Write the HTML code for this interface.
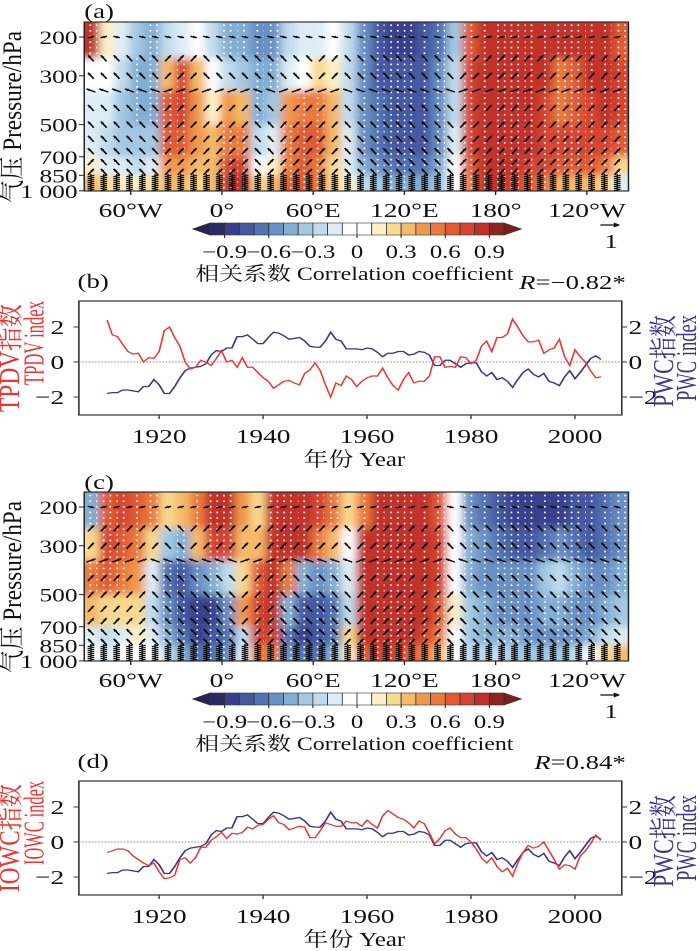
<!DOCTYPE html>
<html><head><meta charset="utf-8"><style>
html,body{margin:0;padding:0;background:#fff;}
svg{display:block;}
text{font-family:"Liberation Serif","Noto Serif CJK SC","Noto Sans CJK SC",serif;fill:#111;}
</style></head><body>
<svg id="fig" xmlns="http://www.w3.org/2000/svg" width="700" height="951" viewBox="0 0 523.5 951" preserveAspectRatio="none">
<defs>
<pattern id="dots" patternUnits="userSpaceOnUse" width="5" height="5.6"><ellipse cx="2.5" cy="2.8" rx="0.75" ry="0.95" fill="#fff"/></pattern>
<clipPath id="clipA"><rect x="63" y="22" width="407" height="169"/></clipPath>
<clipPath id="clipC"><rect x="63" y="492" width="407" height="169"/></clipPath>
<filter id="blur" x="-5%" y="-5%" width="110%" height="110%"><feGaussianBlur stdDeviation="3.2 4"/></filter>
</defs>
</svg>
<script>
// ---- data ----
const levels=[170,250,350,500,700,850,1000];
const palette=['#2c2a66','#383f8a','#4458a0','#5272b1','#6a8fc2','#83aed3','#a3c8e2','#c0dcec','#deedf5','#ffffff','#ffffff','#fcf0c8','#f8d98f','#f4b96b','#f0994c','#ea7a3d','#e05b34','#d44430','#c0302a','#8c2520'];
const gridA=[[0.8,-0.1,-0.2,-0.2,0.1,0.3],[0.1,-0.1,-0.2,-0.3,-0.2,0.2],[-0.2,-0.3,-0.4,-0.4,-0.2,0.1],[-0.4,-0.5,-0.5,-0.4,-0.3,0.1],[-0.5,-0.5,-0.5,-0.4,-0.2,0.2],[-0.3,0.3,0.6,0.6,0.4,0.3],[-0.2,0.7,0.7,0.6,0.4,0.3],[-0.1,0.3,0.4,0.4,0.3,0.2],[-0.3,-0.1,0.1,0.3,0.3,0.3],[-0.5,-0.3,0.4,0.5,0.75,0.8],[-0.5,-0.4,0.3,0.5,0.7,0.8],[-0.6,-0.5,-0.5,-0.3,-0.1,0.2],[-0.6,-0.5,-0.4,-0.2,0.1,0.3],[-0.3,-0.2,0.4,0.5,0.5,0.6],[-0.2,-0.1,0.5,0.6,0.6,0.6],[-0.2,0.2,0.5,0.6,0.5,0.5],[-0.1,0.1,0.3,0.3,0.2,0.2],[-0.3,-0.3,-0.3,-0.2,-0.2,0.1],[-0.6,-0.6,-0.6,-0.6,-0.5,-0.3],[-0.8,-0.75,-0.7,-0.7,-0.6,-0.4],[-0.85,-0.8,-0.8,-0.75,-0.7,-0.5],[-0.85,-0.8,-0.8,-0.8,-0.7,-0.5],[-0.8,-0.75,-0.75,-0.75,-0.65,-0.5],[-0.7,-0.6,-0.6,-0.6,-0.5,-0.4],[-0.4,-0.3,-0.3,-0.2,-0.1,0.0],[0.6,0.7,0.7,0.7,0.6,0.5],[0.85,0.85,0.85,0.85,0.8,0.8],[0.85,0.85,0.85,0.85,0.85,0.8],[0.85,0.85,0.85,0.85,0.8,0.7],[0.85,0.85,0.8,0.8,0.7,0.6],[0.8,0.8,0.75,0.75,0.7,0.5],[0.8,0.5,0.5,0.7,0.6,0.3],[0.8,0.6,0.6,0.7,0.6,0.3],[0.8,0.8,0.75,0.75,0.6,0.3],[0.8,0.8,0.8,0.75,0.5,0.2],[0.6,0.7,0.7,0.6,0.2,-0.2]];
const gridC=[[-0.5,0.2,0.5,0.3,-0.2,-0.1],[0.6,0.7,0.6,0.2,-0.3,-0.2],[0.7,0.6,0.5,0.2,-0.2,-0.1],[0.6,0.5,0.4,0.2,0.1,0.0],[0.5,0.2,-0.2,-0.3,-0.2,0.0],[0.2,-0.4,-0.7,-0.6,-0.5,-0.3],[0.3,-0.5,-0.8,-0.8,-0.7,-0.5],[0.5,0.3,-0.6,-0.85,-0.85,-0.7],[0.8,0.7,-0.5,-0.85,-0.8,-0.7],[0.8,0.7,-0.3,-0.6,-0.7,-0.6],[0.4,0.3,0.2,0.4,-0.3,-0.2],[0.2,0.3,0.6,0.7,0.7,0.5],[0.85,0.85,0.85,0.8,0.7,0.5],[0.85,0.85,0.5,-0.5,-0.7,-0.6],[0.85,0.8,-0.5,-0.8,-0.85,-0.7],[0.7,0.5,-0.6,-0.8,-0.8,-0.7],[0.5,0.3,-0.5,-0.7,-0.7,-0.5],[0.2,0.0,-0.2,-0.3,0.2,0.1],[0.5,0.8,0.85,0.85,0.8,0.6],[0.85,0.85,0.85,0.85,0.85,0.7],[0.85,0.85,0.85,0.85,0.8,0.7],[0.85,0.85,0.85,0.85,0.8,0.6],[0.85,0.85,0.85,0.8,0.7,0.5],[0.6,0.7,0.7,0.6,0.5,0.3],[-0.1,0.0,0.0,0.1,0.0,0.0],[-0.6,-0.5,-0.5,-0.4,-0.4,-0.3],[-0.7,-0.6,-0.6,-0.5,-0.5,-0.3],[-0.8,-0.7,-0.6,-0.6,-0.5,-0.3],[-0.85,-0.75,-0.6,-0.6,-0.5,-0.4],[-0.85,-0.8,-0.6,-0.6,-0.6,-0.4],[-0.85,-0.7,-0.4,-0.5,-0.6,-0.4],[-0.85,-0.6,-0.3,-0.5,-0.6,-0.4],[-0.8,-0.7,-0.5,-0.6,-0.6,-0.3],[-0.8,-0.75,-0.6,-0.6,-0.5,-0.1],[-0.7,-0.7,-0.6,-0.5,-0.3,0.2],[-0.6,-0.6,-0.5,-0.4,-0.2,0.3]];
const lonTicks=[-60,0,60,120,180,240];
const lonLabels=['60°W','0°','60°E','120°E','180°','120°W'];
const pTicks=[200,300,500,700,850,1000];
const pLabels=['200','300','500','700','850','1 000'];
const cbTicks=[-0.9,-0.6,-0.3,0,0.3,0.6,0.9];
const cbLabels=['−0.9','−0.6','−0.3','0','0.3','0.6','0.9'];
const years=[];for(let y=1910;y<=2005;y++)years.push(y);
const pwc=[-1.8,-1.75,-1.75,-1.6,-1.6,-1.65,-1.7,-1.4,-1.4,-1.0,-1.3,-1.8,-1.8,-1.4,-0.9,-0.5,-0.35,-0.3,-0.25,-0.1,0.4,0.65,0.6,0.8,0.8,1.45,1.45,1.55,1.3,1.05,1.05,1.4,1.7,1.65,1.5,1.3,1.35,1.4,1.2,0.9,0.85,0.85,1.2,1.7,1.3,1.2,0.75,0.75,0.75,0.7,0.8,0.75,0.55,0.3,0.5,0.5,0.6,0.6,0.4,0.45,0.6,0.55,0.4,-0.2,-0.2,0.1,0.1,-0.1,-0.3,-0.1,-0.05,-0.05,-0.55,-0.8,-0.6,-1.0,-0.9,-1.1,-1.45,-1.0,-0.6,-0.4,-0.7,-0.85,-0.65,-1.1,-1.2,-1.35,-0.85,-0.5,-0.95,-0.6,-0.2,0.2,0.35,0.15];
const tpdv=[2.4,1.55,1.45,1.0,0.6,0.45,0.5,0.0,0.25,0.2,0.6,1.8,2.0,1.4,0.9,0.0,-0.4,-0.3,0.1,0.0,-0.2,0.2,0.65,0.0,0.1,-0.3,0.25,-0.3,-0.3,-0.6,-0.9,-1.1,-1.5,-1.3,-1.1,-1.05,-1.2,-1.3,-0.65,-0.45,-0.05,-0.5,-1.3,-2.0,-1.2,-1.35,-0.8,-1.0,-1.4,-1.1,-0.9,-0.8,-0.8,-0.35,-0.9,-1.35,-1.6,-1.0,-0.6,-1.2,-1.1,-1.1,-0.8,0.3,0.3,-0.3,-0.25,-0.3,0.3,0.25,-0.1,0.1,0.9,1.2,0.6,1.4,1.4,1.6,2.45,2.0,1.5,1.15,1.15,1.25,0.5,0.7,0.8,1.3,0.3,-0.2,0.7,0.3,0.0,-0.5,-0.9,-0.85];
const iowc=[-0.6,-0.5,-0.4,-0.4,-0.5,-0.8,-1.0,-1.2,-1.35,-1.2,-1.7,-2.1,-2.05,-1.9,-1.0,-0.9,-1.2,-0.9,-0.3,-0.3,0.1,0.3,0.55,0.2,0.5,0.45,0.55,0.85,0.75,0.95,1.0,1.3,1.5,1.1,1.0,0.7,0.8,0.9,0.85,0.25,0.25,0.65,1.1,1.0,0.9,0.9,1.2,1.1,1.1,0.9,1.25,1.0,0.8,1.5,1.8,1.6,1.4,1.3,1.1,0.8,1.2,1.05,0.5,-0.1,0.2,0.65,0.8,0.45,0.25,0.25,0.0,-0.4,-0.9,-1.2,-0.9,-1.4,-1.7,-1.5,-1.95,-1.2,-0.6,-0.2,-0.35,-0.25,0.0,-0.5,-1.0,-1.55,-1.3,-1.35,-1.55,-0.8,-0.5,-0.1,0.4,0.1];
const yrTicks=[1920,1940,1960,1980,2000];
const valTicks=[2,0,-2];
const valLabels=['2','0','−2'];

// ---- helpers ----
const NS='http://www.w3.org/2000/svg';
const svg=document.getElementById('fig');
function mk(tag,attrs,parent){const e=document.createElementNS(NS,tag);for(const k in attrs)e.setAttribute(k,attrs[k]);(parent||svg).appendChild(e);return e;}
function txt(s,x,y,size,anchor,parent,extra){const t=mk('text',Object.assign({x:x,y:y,'font-size':size,'text-anchor':anchor||'start'},extra||{}),parent);t.textContent=s;return t;}
function col(v){let b=Math.floor((v+1)/0.1+1e-9);b=Math.max(0,Math.min(19,b));return palette[b];}
const X0=63,X1=470,NC=36,CW=(X1-X0)/NC;
function lonX(l){return 166+l*1.137;}
function pY(p,top){return top+15+Math.log(p/200)*95.6;}

function heatPanel(grid,top,clipId,tag){
  const bottom=top+169;
  const g=mk('g',{'clip-path':'url(#'+clipId+')'});
  
  
  const gb=mk('g',{filter:'url(#blur)'},g);
  for(let i=0;i<grid.length;i++){
    for(let r=0;r<6;r++){
      let x0=X0+i*CW,w=CW+0.4;
      if(i===0){x0-=10;w+=10;} if(i===grid.length-1){w+=10;}
      let y0=pY(levels[r],top),y1=pY(levels[r+1],top);
      if(r===0)y0-=10; if(r===5)y1+=10;
      const c=mk('rect',{x:x0,y:y0,width:w,height:y1-y0,fill:col(grid[i][r])},gb);
      
      
    }
  }
  const gs=mk('g',{},g);
  for(let i=0;i<grid.length;i++){
    for(let r=0;r<6;r++){
      if(Math.abs(grid[i][r])>=0.5){
        const y0=pY(levels[r],top)-(r===0?5:0),y1=pY(levels[r+1],top);
        const s=mk('rect',{x:X0+i*CW+1.5,y:y0,width:CW-3,height:y1-y0,fill:'url(#dots)'},gs);
        
        
      }
    }
  }
  const ga=mk('g',{},g);
  const aps=[200,250,300,350,420,500,580,660,740,820];
  for(let xi=X0+5;xi<X1;xi+=9.6){
    const ci=Math.min(NC-1,Math.floor((xi-X0)/CW));
    for(let k=0;k<aps.length;k++){
      const r=levels.findIndex((l,j)=>aps[k]>=l&&aps[k]<levels[j+1]);
      const v=grid[ci][Math.max(0,r)];
      const y=pY(aps[k],top);
      let ang=(v>0?-55:-125);
      if(k===0)ang=(v>0?-15:15);
      if(k===3)ang=(v>0?-25:-155);
      const len=k===0?5:7.5;
      const rad=ang*Math.PI/180;
      const dx=Math.cos(rad)*len/2,dy=Math.sin(rad)*len/2;
      const a=mk('g',{},ga);
      
      
      mk('line',{x1:xi-dx,y1:y-dy,x2:xi+dx,y2:y+dy,stroke:'#111','stroke-width':1.4},a);
      const hx=xi+dx,hy=y+dy,hr=3;
      const p1=[hx-Math.cos(rad-0.45)*hr,hy-Math.sin(rad-0.45)*hr],p2=[hx-Math.cos(rad+0.45)*hr,hy-Math.sin(rad+0.45)*hr];
      mk('polygon',{points:hx+','+hy+' '+p1.join(',')+' '+p2.join(','),fill:'#111'},a);
    }
    const tf=mk('g',{},ga);
    
    
    for(let yy=bottom-15;yy<=bottom-1;yy+=2){
      mk('line',{x1:xi-2.5,y1:yy+0.8,x2:xi+2.5,y2:yy-0.8,stroke:'#111','stroke-width':1.1},tf);
    }
    mk('line',{x1:xi,y1:bottom-17,x2:xi,y2:bottom,stroke:'#111','stroke-width':1},tf);
  }
  const fr=mk('rect',{x:X0,y:top,width:X1-X0,height:169,fill:'none',stroke:'#222','stroke-width':1.1});
  
  
  const pa=mk('g',{});
  
  
  pTicks.forEach((p,i)=>{const y=pY(p,top);mk('line',{x1:X0-4,y1:y,x2:X0,y2:y,stroke:'#222','stroke-width':1},pa);
    const t=txt(pLabels[i],58,y+7,19,'end',pa);
    
    });
  const yt=txt('气压 Pressure/hPa',0,0,19.5,'middle',null,{transform:'translate(9,'+(top+95)+') rotate(-90)','dominant-baseline':'central',textLength:172,lengthAdjust:'spacingAndGlyphs'});
  
  
  const la=mk('g',{});
  
  
  lonTicks.forEach((l,i)=>{const x=lonX(l);mk('line',{x1:x,y1:bottom,x2:x,y2:bottom+4,stroke:'#222','stroke-width':1},la);
    const t=txt(lonLabels[i],x,bottom+26,20.5,'middle',la);
    
    });
  const cb=mk('g',{});
  
  
  const cy=top+201,ch=12,bx=157,bw=11;
  mk('polygon',{points:(bx-13)+','+(cy+ch/2)+' '+bx+','+cy+' '+bx+','+(cy+ch),fill:'#2a2350',stroke:'#333','stroke-width':0.6},cb);
  for(let i=0;i<20;i++){const r=mk('rect',{x:bx+i*bw,y:cy,width:bw,height:ch,fill:palette[i],stroke:'#333','stroke-width':0.6},cb);
    
    }
  mk('polygon',{points:(bx+220)+','+cy+' '+(bx+233)+','+(cy+ch/2)+' '+(bx+220)+','+(cy+ch),fill:'#7a2018',stroke:'#333','stroke-width':0.6},cb);
  cbTicks.forEach((v,i)=>{const x=bx+(v+1)*110;mk('line',{x1:x,y1:cy+ch,x2:x,y2:cy+ch+3,stroke:'#222','stroke-width':0.8},cb);
    const t=txt(cbLabels[i],x,cy+35,18.5,'middle',cb);
    
    });
  const ct=txt('相关系数 Correlation coefficient',265,top+258,19,'middle',null,{textLength:238,lengthAdjust:'spacingAndGlyphs'});
  
  
  const ra=mk('g',{});
  
  
  mk('line',{x1:449,y1:top+203,x2:461,y2:top+203,stroke:'#111','stroke-width':1.3},ra);
  mk('polygon',{points:'464,'+(top+203)+' 459,'+(top+200.5)+' 459,'+(top+205.5),fill:'#111'},ra);
  txt('1',457,top+226,20,'middle',ra);
}

function linePanel(top,redSeries,redName,tag,rText){
  const bottom=top+114,L=59,R=465;
  const xs=y=>119+(y-1920)*3.8875;
  const ys=v=>top+61-v*17.5;
  const fr=mk('rect',{x:L,y:top,width:R-L,height:114,fill:'none',stroke:'#333','stroke-width':1.2});
  
  
  const zl=mk('line',{x1:L,y1:ys(0),x2:R,y2:ys(0),stroke:'#888','stroke-width':0.9,'stroke-dasharray':'1.2,1.2'});
  
  
  valTicks.forEach((v,i)=>{
    mk('line',{x1:L-4,y1:ys(v),x2:L,y2:ys(v),stroke:'#333','stroke-width':1});
    mk('line',{x1:R,y1:ys(v),x2:R+4,y2:ys(v),stroke:'#333','stroke-width':1});
    const a=txt(valLabels[i],48,ys(v)+7,20.5,'end');
    
    
    const b=txt(valLabels[i],470,ys(v)+7,20.5,'start');
    
    
  });
  yrTicks.forEach(y=>{
    mk('line',{x1:xs(y),y1:bottom,x2:xs(y),y2:bottom+4,stroke:'#333','stroke-width':1});
    const t=txt(String(y),xs(y),bottom+28,20.5,'middle');
    
    
  });
  const blue=mk('polyline',{points:years.map((y,i)=>xs(y)+','+ys(pwc[i])).join(' '),fill:'none',stroke:'#3a3590','stroke-width':1.3});
  
  
  const red=mk('polyline',{points:years.map((y,i)=>xs(y)+','+ys(redSeries[i])).join(' '),fill:'none',stroke:'#ee3330','stroke-width':1.2});
  
  
  const xt=txt('年份 Year',265,bottom+51,20,'middle',null,{textLength:76,lengthAdjust:'spacingAndGlyphs'});
  
  
  const l1=txt(redName+'指数',0,0,21,'middle',null,{transform:'translate(8,'+(top+57)+') rotate(-90)','dominant-baseline':'central',textLength:108,lengthAdjust:'spacingAndGlyphs',style:'fill:#ee3330'});
  
  
  const l2=txt(redName+' index',0,0,21,'middle',null,{transform:'translate(26,'+(top+42)+') rotate(-90)','dominant-baseline':'central',textLength:84,lengthAdjust:'spacingAndGlyphs',style:'fill:#ee3330'});
  
  
  const r1=txt('PWC指数',0,0,21,'middle',null,{transform:'translate(497,'+(top+60)+') rotate(-90)','dominant-baseline':'central',textLength:92,lengthAdjust:'spacingAndGlyphs',style:'fill:#3a3590'});
  
  
  const r2=txt('PWC index',0,0,21,'middle',null,{transform:'translate(514,'+(top+57)+') rotate(-90)','dominant-baseline':'central',textLength:86,lengthAdjust:'spacingAndGlyphs',style:'fill:#3a3590'});
  
  
  const rt=mk('text',{x:468,y:top-12,'font-size':20,'text-anchor':'end'});
  
  
  const ri=mk('tspan',{'font-style':'italic'},rt);ri.textContent='R';
  const rv=mk('tspan',{},rt);rv.textContent=rText;
}

[['(a)',18,'panel-a-label',63],['(b)',288,'panel-b-label',58],['(c)',489,'panel-c-label',63],['(d)',768,'panel-d-label',58]].forEach(p=>{
  const t=txt(p[0],p[3],p[1],20,'start');
  
  
});
heatPanel(gridA,22,'clipA','panel-a');
linePanel(301,tpdv,'TPDV','panel-b','=−0.82*');
heatPanel(gridC,492,'clipC','panel-c');
linePanel(781,iowc,'IOWC','panel-d','=0.84*');
</script>
</body></html>
